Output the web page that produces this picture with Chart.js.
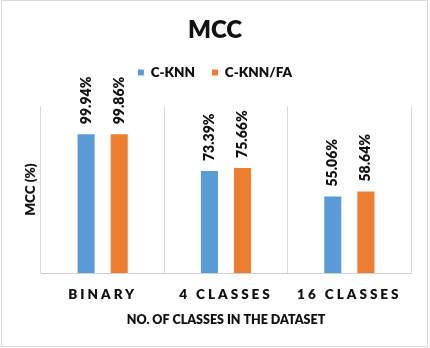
<!DOCTYPE html>
<html>
<head>
<meta charset="utf-8">
<script src="https://cdn.jsdelivr.net/npm/chart.js@4.4.1/dist/chart.umd.min.js"></script>
<style>
html,body{margin:0;padding:0;background:#fff;}
#wrap{width:430px;height:348px;position:relative;}
</style>
</head>
<body>
<div id="wrap"><canvas id="c" width="430" height="348"></canvas></div>
<script>
const categories = ["BINARY", "4 CLASSES", "16 CLASSES"];
const seriesNames = ["C-KNN", "C-KNN/FA"];
const cknn = [99.94, 73.39, 55.06];
const cknnFa = [99.86, 75.66, 58.64];

const FONT = "Lato, 'Open Sans', sans-serif";
const W = '800';

const labelPlugin = {
  id: 'valueLabels',
  afterDatasetsDraw(chart) {
    const ctx = chart.ctx;
    chart.data.datasets.forEach((ds, di) => {
      const meta = chart.getDatasetMeta(di);
      meta.data.forEach((el, i) => {
        ctx.save();
        ctx.translate(el.x, el.y - 10);
        ctx.rotate(-Math.PI / 2);
        ctx.font = W + " 14px " + FONT;
        ctx.fillStyle = '#111';
        ctx.textAlign = 'left';
        ctx.textBaseline = 'middle';
        ctx.fillText(ds.data[i].toFixed(2) + '%', 0, 0);
        ctx.restore();
      });
    });
  }
};

const framePlugin = {
  id: 'frame',
  afterDraw(chart) {
    const ctx = chart.ctx;
    ctx.save();
    ctx.strokeStyle = '#d9d9d9';
    ctx.lineWidth = 1;
    ctx.strokeRect(1.5, 0.5, 426, 346);
    ctx.restore();
  },
  afterUpdate(chart) {
    const sx = chart.scales.x;
    if (sx && !sx._lsPatched) {
      const orig = sx.drawLabels.bind(sx);
      sx.drawLabels = function(area) {
        const ctx = this.ctx;
        ctx.save();
        ctx.letterSpacing = '3px';
        orig(area);
        ctx.restore();
      };
      sx._lsPatched = true;
    }
  }
};

new Chart(document.getElementById('c'), {
  type: 'bar',
  data: {
    labels: categories,
    datasets: [
      { label: seriesNames[0], data: cknn, xAxisID: 'x', yAxisID: 'y', backgroundColor: '#5B9BD5', categoryPercentage: 0.537, barPercentage: 0.515 },
      { label: seriesNames[1], data: cknnFa, xAxisID: 'x', yAxisID: 'y', backgroundColor: '#ED7D31', categoryPercentage: 0.537, barPercentage: 0.515 }
    ]
  },
  options: {
    responsive: false,
    animation: false,
    devicePixelRatio: 1,
    layout: { padding: { left: 0, right: 0, top: 0, bottom: 0 } },
    plugins: {
      title: {
        display: true,
        text: 'MCC',
        color: '#111',
        font: { family: FONT, size: 24, weight: W },
        padding: { top: 16, bottom: 4 }
      },
      legend: {
        display: true,
        position: 'top',
        labels: {
          color: '#111',
          font: { family: FONT, size: 13.5, weight: W },
          boxWidth: 6,
          boxHeight: 6,
          padding: 17
        }
      },
      tooltip: { enabled: false }
    },
    scales: {
      x: {
        grid: { display: true, offset: true, color: '#d9d9d9', drawTicks: false },
        border: { display: true, color: '#d0d0d0' },
        ticks: { color: '#111', font: { family: FONT, size: 13.5, weight: W }, padding: 14, maxRotation: 0 },
        title: {
          display: true,
          text: 'NO. OF CLASSES IN THE DATASET',
          color: '#111',
          font: { family: FONT, size: 12.5, weight: W },
          padding: { top: 0, bottom: 21 }
        },
        afterFit(s) { s.height = 75; }
      },
      y: {
        min: 0,
        max: 120,
        grid: { display: false },
        border: { display: false },
        ticks: { display: false },
        title: {
          display: true,
          text: 'MCC (%)',
          color: '#111',
          font: { family: FONT, size: 13.5, weight: W },
          padding: { top: 23, bottom: 0 }
        },
        afterFit(s) { s.width = 41; }
      },
      topSpace: {
        type: 'linear',
        position: 'top',
        display: true,
        grid: { display: false },
        border: { display: false },
        ticks: { display: false },
        afterFit(s) { s.height = 17; }
      },
      rightSpace: {
        type: 'linear',
        position: 'right',
        display: true,
        grid: { display: false },
        border: { display: false },
        ticks: { display: false },
        afterFit(s) { s.width = 19; }
      }
    }
  },
  plugins: [labelPlugin, framePlugin]
});
</script>
</body>
</html>
